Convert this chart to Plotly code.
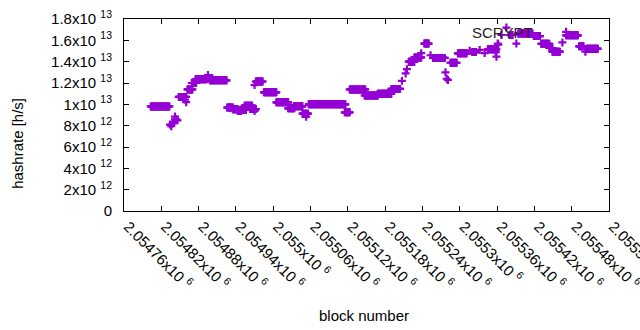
import plotly.graph_objects as go

# Runs of consecutive blocks that share the same hashrate (values in 1e12 h/s)
run_start = [2054803, 2054848, 2054862, 2054869, 2054875, 2054891, 2054898, 2054926,
             2054935, 2054943, 2054946, 2054954, 2054963, 2054972, 2054985, 2055005,
             2055024, 2055033, 2055047, 2055057, 2055115, 2055123, 2055147, 2055168,
             2055190, 2055218, 2055227, 2055243, 2055257, 2055285, 2055297, 2055320,
             2055345, 2055380, 2055394, 2055419, 2055431, 2055444, 2055449, 2055471,
             2055492, 2055504]
run_end = [2054833, 2054860, 2054870, 2054876, 2054893, 2054902, 2054925, 2054935,
           2054943, 2054948, 2054956, 2054966, 2054972, 2054983, 2055005, 2055024,
           2055034, 2055047, 2055056, 2055116, 2055123, 2055148, 2055168, 2055190,
           2055204, 2055227, 2055238, 2055250, 2055276, 2055295, 2055311, 2055326,
           2055359, 2055385, 2055417, 2055429, 2055444, 2055449, 2055461, 2055490,
           2055499, 2055522]
run_hashrate = [9.8, 10.7, 11.4, 12.0, 12.35, 12.45, 12.25, 9.7,
                9.53, 9.37, 9.47, 9.87, 9.56, 12.14, 11.13, 10.19,
                9.63, 9.81, 9.12, 10.0, 9.25, 11.4, 10.83, 11.0,
                11.45, 14.0, 14.4, 15.7, 14.35, 13.9, 14.78, 14.9,
                15.16, 16.5, 16.65, 16.4, 15.68, 15.28, 14.94, 16.47,
                15.44, 15.22]

# Isolated blocks
single_block = [2054834, 2054836, 2054838, 2054840, 2054842, 2054844, 2054846, 2054842,
                2054858, 2054860, 2054895, 2054970, 2054970, 2055053, 2055207, 2055215,
                2055213, 2055238, 2055253, 2055277, 2055279, 2055281, 2055316, 2055332,
                2055340, 2055359, 2055361, 2055358, 2055362, 2055367, 2055375, 2055391,
                2055465, 2055471, 2055502]
single_hashrate = [8.1, 7.95, 8.2, 8.3, 8.6, 8.6, 8.5, 8.85,
                   10.45, 10.2, 12.75, 9.37, 11.8, 8.84, 12.2, 13.3,
                   12.9, 14.8, 14.6, 13.0, 12.4, 12.28, 15.03, 15.1,
                   14.8, 14.47, 15.7, 14.9, 15.6, 16.5, 17.2, 15.7,
                   15.8, 16.8, 14.94]

x_ticks = [2054760 + 60 * i for i in range(14)]
x_tick_text = ["2.05476x10 <sup>6</sup>", "2.05482x10 <sup>6</sup>", "2.05488x10 <sup>6</sup>",
               "2.05494x10 <sup>6</sup>", "2.055x10 <sup>6</sup>", "2.05506x10 <sup>6</sup>",
               "2.05512x10 <sup>6</sup>", "2.05518x10 <sup>6</sup>", "2.05524x10 <sup>6</sup>",
               "2.0553x10 <sup>6</sup>", "2.05536x10 <sup>6</sup>", "2.05542x10 <sup>6</sup>",
               "2.05548x10 <sup>6</sup>", "2.05554x10 <sup>6</sup>"]
y_ticks = [0, 2e12, 4e12, 6e12, 8e12, 1e13, 1.2e13, 1.4e13, 1.6e13, 1.8e13]
y_tick_text = ["0", "2x10 <sup>12</sup>", "4x10 <sup>12</sup>", "6x10 <sup>12</sup>",
               "8x10 <sup>12</sup>", "1x10 <sup>13</sup>", "1.2x10 <sup>13</sup>",
               "1.4x10 <sup>13</sup>", "1.6x10 <sup>13</sup>", "1.8x10 <sup>13</sup>"]

xs, ys = [], []
for s, e, h in zip(run_start, run_end, run_hashrate):
    for b in range(s, e + 1):
        xs.append(b)
        ys.append(h * 1e12)
for b, h in zip(single_block, single_hashrate):
    xs.append(b)
    ys.append(h * 1e12)

PURPLE = "#9400D3"
FONT = "Liberation Sans, Arial, sans-serif"

fig = go.Figure()
fig.add_trace(go.Scatter(
    x=xs, y=ys, mode="markers", name="SCRYPT",
    marker=dict(symbol="cross-thin", size=5.7, color=PURPLE,
                line=dict(color=PURPLE, width=2.2)),
    showlegend=False, cliponaxis=True,
))

fig.update_layout(
    width=640, height=330,
    margin=dict(l=124, r=31, t=19, b=119),
    paper_bgcolor="white", plot_bgcolor="white",
    font=dict(family=FONT, size=15, color="black"),
    xaxis=dict(range=[2054760, 2055540], tickvals=x_ticks, ticktext=x_tick_text,
               tickangle=45, ticks="inside", ticklen=5, tickcolor="black",
               showline=True, linecolor="black", linewidth=1, mirror="allticks",
               showgrid=False, zeroline=False, tickfont=dict(size=15),
               automargin=False, ticklabeloverflow="allow", ticklabelshift=4),
    yaxis=dict(range=[0, 1.8e13], tickvals=y_ticks, ticktext=y_tick_text,
               ticks="inside", ticklen=5, tickcolor="black",
               showline=True, linecolor="black", linewidth=1, mirror="allticks",
               showgrid=False, zeroline=False, tickfont=dict(size=15),
               ticklabelstandoff=8, automargin=False, ticklabeloverflow="allow"),
    annotations=[
        dict(text="block number", xref="paper", yref="paper", x=0.495, y=-0.542,
             xanchor="center", yanchor="middle", showarrow=False, font=dict(size=15)),
        dict(text="hashrate [h/s]", xref="paper", yref="paper", x=-0.221, y=0.354,
             xanchor="center", yanchor="middle", textangle=-90, showarrow=False,
             font=dict(size=15)),
        dict(text="SCRYPT", xref="paper", yref="paper", x=0.8464, y=0.932,
             xanchor="right", yanchor="middle", showarrow=False,
             font=dict(size=15, color="#222222")),
    ],
)

fig.write_html("out.html", config={"displayModeBar": False},
               post_script="document.body.style.margin='0';document.body.style.padding='0';")
